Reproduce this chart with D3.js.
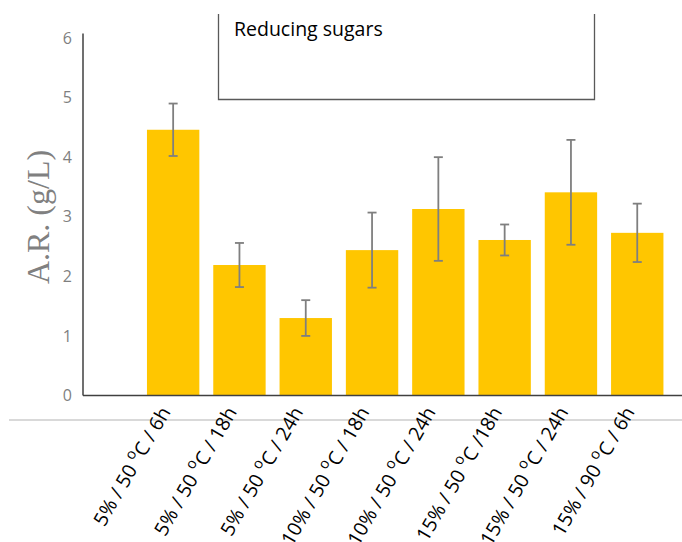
<!DOCTYPE html>
<html>
<head>
<meta charset="utf-8">
<script src="https://cdn.jsdelivr.net/npm/d3@7/dist/d3.min.js"></script>
<style>
  html, body { margin: 0; padding: 0; background: #fff; }
  svg { display: block; }
</style>
</head>
<body>
<svg id="chart" width="682" height="542"></svg>
<script>
// ---- data ----
const categories = [
  ["5% / 50 ", "o", "C / 6h"],
  ["5% / 50 ", "o", "C / 18h"],
  ["5% / 50 ", "o", "C / 24h"],
  ["10% / 50 ", "o", "C / 18h"],
  ["10% / 50 ", "o", "C / 24h"],
  ["15% / 50 ", "o", "C /18h"],
  ["15% / 50 ", "o", "C / 24h"],
  ["15% / 90 ", "o", "C / 6h"]
];
const values = [4.46, 2.19, 1.30, 2.44, 3.13, 2.61, 3.41, 2.73];
const errors = [0.44, 0.37, 0.30, 0.63, 0.87, 0.26, 0.88, 0.49];
const yTicks = [0, 1, 2, 3, 4, 5, 6];
const legendLabel = "Reducing sugars";
const yLabel = "A.R. (g/L)";

// ---- layout ----
const svg = d3.select("#chart");
const x0 = 83, xEnd = 682;
const keys = categories.map((c, i) => "c" + i);
const x = d3.scaleBand().domain(keys).range([140, 670.4]).paddingInner(0.21).paddingOuter(0.105);
const y = d3.scaleLinear().domain([0, 6]).range([395.5, 38]);

// light separator line
svg.append("line")
  .attr("x1", 9).attr("x2", 682).attr("y1", 420).attr("y2", 420)
  .attr("stroke", "#d9d9d9").attr("stroke-width", 2);

// bars
svg.append("g").selectAll("rect").data(values).join("rect")
  .attr("x", (d, i) => x(keys[i]))
  .attr("width", x.bandwidth())
  .attr("y", d => y(d))
  .attr("height", d => y(0) - y(d))
  .attr("fill", "#ffc600");

// error bars
const eg = svg.append("g").attr("stroke", "#7f7f7f").attr("stroke-width", 1.8).attr("fill", "none");
values.forEach((v, i) => {
  const cx = x(keys[i]) + x.bandwidth() / 2;
  const yt = y(v + errors[i]), yb = y(v - errors[i]);
  eg.append("line").attr("x1", cx).attr("x2", cx).attr("y1", yt).attr("y2", yb);
  eg.append("line").attr("x1", cx - 4.5).attr("x2", cx + 4.5).attr("y1", yt).attr("y2", yt);
  eg.append("line").attr("x1", cx - 4.5).attr("x2", cx + 4.5).attr("y1", yb).attr("y2", yb);
});

// axes lines
svg.append("line").attr("x1", x0).attr("x2", x0).attr("y1", y(6) - 4.5).attr("y2", y(0))
  .attr("stroke", "#404040").attr("stroke-width", 1.5);
svg.append("line").attr("x1", x0).attr("x2", xEnd).attr("y1", y(0)).attr("y2", y(0))
  .attr("stroke", "#404040").attr("stroke-width", 1.5);

// y axis tick labels via d3 axis
const yAxis = d3.axisLeft(y).tickValues(yTicks).tickSize(0).tickPadding(11).tickFormat(d3.format("d"));
const yg = svg.append("g").attr("transform", `translate(${x0},0)`).call(yAxis);
yg.select(".domain").remove();
yg.selectAll("text")
  .attr("font-family", "'Open Sans', sans-serif")
  .attr("font-size", 16)
  .attr("fill", "#7f7f7f");

// y label
svg.append("text")
  .attr("transform", "translate(49,217) rotate(-90)")
  .attr("text-anchor", "middle")
  .attr("font-family", "'Liberation Serif', 'Times New Roman', serif")
  .attr("font-size", 32)
  .attr("fill", "#808080")
  .text(yLabel);

// x labels
const xl = svg.append("g");
categories.forEach((c, i) => {
  const cx = x(keys[i]) + x.bandwidth() / 2;
  const t = xl.append("text")
    .attr("transform", `translate(${cx - 2},412) rotate(-60)`)
    .attr("text-anchor", "end")
    .attr("font-family", "'Open Sans', sans-serif")
    .attr("font-size", 19.5)
    .attr("fill", "#000");
  t.append("tspan").text(c[0]);
  t.append("tspan").attr("baseline-shift", "super").attr("font-size", 14.5).text(c[1]);
  t.append("tspan").text(c[2]);
});

// legend/title box (open top)
svg.append("path")
  .attr("d", "M218.5,14 V99.5 H594.5 V14")
  .attr("fill", "none").attr("stroke", "#595959").attr("stroke-width", 1.3);
svg.append("text")
  .attr("x", 234).attr("y", 36)
  .attr("font-family", "'Open Sans', sans-serif")
  .attr("font-size", 19.5)
  .attr("fill", "#000")
  .text(legendLabel);
</script>
</body>
</html>
